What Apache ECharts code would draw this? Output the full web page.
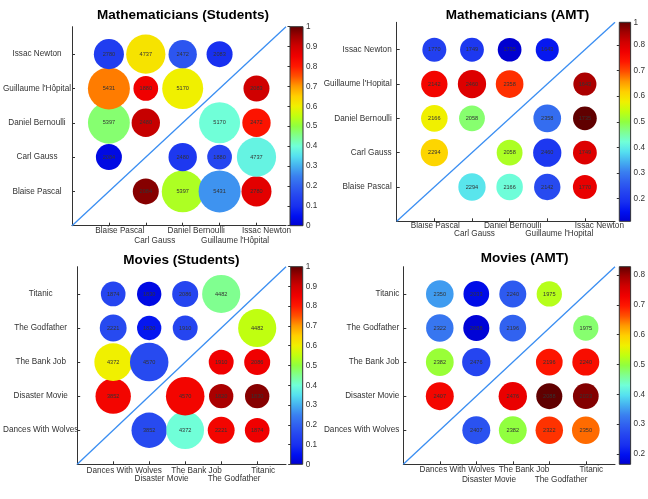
<!DOCTYPE html>
<html><head><meta charset="utf-8">
<script src="https://cdn.jsdelivr.net/npm/echarts@6/dist/echarts.min.js"></script>
<style>html,body{margin:0;padding:0;background:#fff}#c{width:648px;height:499px}</style>
</head><body><div id="c"></div>
<script>
// ---------- data ----------
const MATH_CATS_STUDENTS = ['Blaise Pascal', 'Carl Gauss', 'Daniel Bernoulli', "Guillaume l'Hôpital", 'Issac Newton'];
const MATH_CATS_AMT = ['Blaise Pascal', 'Carl Gauss', 'Daniel Bernoulli', "Guillaume l'Hopital", 'Issac Newton'];
const MOVIE_CATS = ['Dances With Wolves', 'Disaster Movie', 'The Bank Job', 'The Godfather', 'Titanic'];
const CAT_POS = [1, 2, 3, 4, 5];
const ROW1_POS = [1, 3, 5];   // x labels on the first text row
const ROW2_POS = [2, 4];      // x labels on the second text row
const AXIS_MAX = 5.8;

// rows: y = 1 (bottom) .. 5 (top); columns: x = 1 .. 5
const MATH_STUDENTS_SCORE = [
  [null, 0.97, 0.53, 0.27, 0.87],
  [0.03, null, 0.12, 0.15, 0.38],
  [0.47, 0.91, null, 0.40, 0.81],
  [0.72, 0.85, 0.60, null, 0.90],
  [0.13, 0.62, 0.18, 0.10, null]
];
const MATH_STUDENTS_COUNT = [
  [null, 2084, 5397, 5431, 2780],
  [2084, null, 2480, 1880, 4737],
  [5397, 2480, null, 5170, 2472],
  [5431, 1880, 5170, null, 2083],
  [2780, 4737, 2472, 2083, null]
];
const MATH_AMT_SCORE = [
  [null, 0.39, 0.42, 0.236, 0.78],
  [0.61, null, 0.523, 0.205, 0.795],
  [0.578, 0.477, null, 0.283, 0.888],
  [0.764, 0.795, 0.717, null, 0.84],
  [0.22, 0.205, 0.112, 0.16, null]
];
const MATH_AMT_COUNT = [
  [null, 2294, 2166, 2142, 1770],
  [2294, null, 2058, 2460, 1749],
  [2166, 2058, null, 2358, 1735],
  [2142, 2460, 2358, null, 1643],
  [1770, 1749, 1735, 1643, null]
];
const MOVIE_STUDENTS_SCORE = [
  [null, 0.16, 0.40, 0.84, 0.85],
  [0.84, null, 0.84, 0.94, 0.97],
  [0.60, 0.16, null, 0.85, 0.85],
  [0.16, 0.06, 0.15, null, 0.55],
  [0.15, 0.03, 0.15, 0.45, null]
];
const MOVIE_STUDENTS_COUNT = [
  [null, 3852, 4372, 2221, 1874],
  [3852, null, 4570, 1820, 1830],
  [4372, 4570, null, 1910, 2086],
  [2221, 1820, 1910, null, 4482],
  [1874, 1830, 2086, 4482, null]
];
const MOVIE_AMT_SCORE = [
  [null, 0.28, 0.497, 0.68, 0.65],
  [0.72, null, 0.735, 0.828, 0.81],
  [0.503, 0.265, null, 0.70, 0.71],
  [0.32, 0.172, 0.30, null, 0.477],
  [0.35, 0.19, 0.29, 0.523, null]
];
const MOVIE_AMT_COUNT = [
  [null, 2407, 2382, 2322, 2350],
  [2407, null, 2476, 2088, 2033],
  [2382, 2476, null, 2196, 2240],
  [2322, 2088, 2196, null, 1975],
  [2350, 2033, 2240, 1975, null]
];
const CB_TICKS_01 = [0, 0.1, 0.2, 0.3, 0.4, 0.5, 0.6, 0.7, 0.8, 0.9, 1];
const CB_TICKS_AMT_MATH = [0.2, 0.3, 0.4, 0.5, 0.6, 0.7, 0.8];
const CB_TOP_LABEL_AMT_MATH = '1';
const CB_TICKS_AMT_MOVIE = [0.2, 0.3, 0.4, 0.5, 0.6, 0.7, 0.8];
const CB_RANGE_MATH_AMT = [0.112, 0.888];
const CB_RANGE_MOVIE_AMT = [0.165, 0.828];

// ---------- style ----------
const FONT = '"Liberation Sans", Arial, Helvetica, sans-serif';
const JET = ['#0000d0', '#0010f0', '#1830f0', '#2545f0', '#3060f0', '#3a80f0', '#45b0f0', '#55e0f0',
  '#70ffd8', '#80ff90', '#90ff40', '#c0ff10', '#f0f000', '#ffd000', '#ff9a00', '#ff5000',
  '#ff1800', '#f00000', '#d00000', '#a00000', '#600000'];
const SIZE_K = 0.57;
const LBL = 8.2;

const panels = [
  { title: 'Mathematicians (Students)', cats: MATH_CATS_STUDENTS, score: MATH_STUDENTS_SCORE, count: MATH_STUDENTS_COUNT,
    cmin: 0, cmax: 1, cbTicks: CB_TICKS_01, topLabel: null,
    grid: { left: 68, top: 26.7, width: 218, height: 199 }, cb: { left: 290, top: 26.7, width: 13, height: 199 },
    tx: 183, ty: 15.7, yAlign: 'center', yMargin: 35, xMargin: 1.5, row2: 9.3, dx: [11, 9, 13.5, 15.5, 10] },
  { title: 'Mathematicians (AMT)', cats: MATH_CATS_AMT, score: MATH_AMT_SCORE, count: MATH_AMT_COUNT,
    cmin: CB_RANGE_MATH_AMT[0], cmax: CB_RANGE_MATH_AMT[1], cbTicks: CB_TICKS_AMT_MATH, topLabel: CB_TOP_LABEL_AMT_MATH,
    grid: { left: 396.7, top: 22.3, width: 218.3, height: 199 }, cb: { left: 619.3, top: 22.3, width: 12.4, height: 199 },
    tx: 517.5, ty: 15, yAlign: 'right', yMargin: 5, xMargin: 0.8, row2: 7.3, dx: [1, 2.5, 3, 12, 14.5] },
  { title: 'Movies (Students)', cats: MOVIE_CATS, score: MOVIE_STUDENTS_SCORE, count: MOVIE_STUDENTS_COUNT,
    cmin: 0, cmax: 1, cbTicks: CB_TICKS_01, topLabel: null,
    grid: { left: 74, top: 266.7, width: 212, height: 197.6 }, cb: { left: 290.7, top: 266.7, width: 12, height: 197.6 },
    tx: 181.3, ty: 260, yAlign: 'center', yMargin: 36.5, xMargin: 2.5, row2: 7.7, dx: [11, 12.4, 11.3, 13, 6] },
  { title: 'Movies (AMT)', cats: MOVIE_CATS, score: MOVIE_AMT_SCORE, count: MOVIE_AMT_COUNT,
    cmin: CB_RANGE_MOVIE_AMT[0], cmax: CB_RANGE_MOVIE_AMT[1], cbTicks: CB_TICKS_AMT_MOVIE, topLabel: null,
    grid: { left: 403.3, top: 266.7, width: 211.7, height: 197.6 }, cb: { left: 619.3, top: 266.7, width: 12.4, height: 197.6 },
    tx: 524.7, ty: 258.3, yAlign: 'right', yMargin: 4, xMargin: 1.9, row2: 9.3, dx: [17.4, 12.7, 11.3, 11.8, 5.5] }
];

const grids = [], xAxes = [], yAxes = [], series = [], visualMaps = [], graphics = [];
const extraX = [];
const gradStops = JET.map((c, i) => ({ offset: i / (JET.length - 1), color: JET[JET.length - 1 - i] }));

function richFor(p) {
  const rich = {};
  p.dx.forEach((d, i) => {
    rich['r' + i] = { fontSize: LBL, fontFamily: FONT, color: '#333', padding: [0, 0, 0, 2 * d] };
  });
  return rich;
}
function xFormatter(p) {
  return (v) => { const i = Math.round(v) - 1; return (i >= 0 && i < 5) ? '{r' + i + '|' + p.cats[i] + '}' : ''; };
}

panels.forEach((p, k) => {
  grids.push(Object.assign({ containLabel: false }, p.grid));
  xAxes.push({
    gridIndex: k, type: 'value', min: 0, max: AXIS_MAX, position: 'bottom',
    axisLine: { show: true, onZero: false, lineStyle: { color: '#333', width: 1 } },
    splitLine: { show: false },
    axisTick: { show: true, inside: true, length: 3, customValues: CAT_POS, lineStyle: { color: '#333' } },
    axisLabel: {
      customValues: ROW1_POS, margin: p.xMargin, fontSize: LBL, fontFamily: FONT, color: '#333', rich: richFor(p),
      hideOverlap: false, formatter: xFormatter(p)
    }
  });
  extraX.push({
    gridIndex: k, type: 'value', min: 0, max: AXIS_MAX, position: 'bottom', offset: 0,
    axisLine: { show: false }, axisTick: { show: false }, splitLine: { show: false },
    axisLabel: {
      customValues: ROW2_POS, margin: p.xMargin + p.row2, fontSize: LBL, fontFamily: FONT, color: '#333', rich: richFor(p),
      hideOverlap: false, formatter: xFormatter(p)
    }
  });
  yAxes.push({
    gridIndex: k, type: 'value', min: 0, max: AXIS_MAX,
    axisLine: { show: true, onZero: false, lineStyle: { color: '#333', width: 1 } },
    splitLine: { show: false },
    axisTick: { show: true, inside: true, length: 3, customValues: CAT_POS, lineStyle: { color: '#333' } },
    axisLabel: {
      customValues: CAT_POS, margin: p.yMargin, align: p.yAlign, fontSize: LBL, fontFamily: FONT, color: '#333',
      hideOverlap: false,
      formatter: (v) => { const i = Math.round(v) - 1; return (i >= 0 && i < 5) ? p.cats[i] : ''; }
    }
  });
  const data = [];
  p.score.forEach((row, r) => row.forEach((v, c) => {
    if (v !== null) data.push([CAT_POS[c], CAT_POS[r], v, p.count[r][c]]);
  }));
  series.push({
    type: 'line', xAxisIndex: k, yAxisIndex: k, data: [[0, 0], [AXIS_MAX, AXIS_MAX]],
    showSymbol: false, symbol: 'none', silent: true, z: 1,
    lineStyle: { color: '#3a8ef2', width: 1.3 }
  });
  series.push({
    type: 'scatter', xAxisIndex: k, yAxisIndex: k, data: data, z: 2,
    symbolSize: (val) => SIZE_K * Math.sqrt(val[3]),
    itemStyle: { opacity: 1 },
    label: { show: true, position: 'inside', formatter: (q) => String(q.value[3]), fontSize: 5.6, fontFamily: FONT, color: '#333' },
    emphasis: { disabled: true }
  });
  visualMaps.push({
    type: 'continuous', show: false, seriesIndex: series.length - 1, dimension: 2,
    min: p.cmin, max: p.cmax, inRange: { color: JET }
  });
  graphics.push({
    type: 'text', x: p.tx, y: p.ty,
    style: { text: p.title, fill: '#000', fontSize: 13.5, fontWeight: 'bold', fontFamily: FONT, align: 'center', verticalAlign: 'middle' }
  });
});

panels.forEach((p, k) => {
  const gi = 4 + k;
  grids.push(Object.assign({ containLabel: false }, p.cb));
  xAxes.push({ gridIndex: gi, type: 'value', min: 0, max: 1, show: false });
  const vals = p.topLabel ? p.cbTicks.concat([p.cmax]) : p.cbTicks;
  yAxes.push({
    gridIndex: gi, type: 'value', min: p.cmin, max: p.cmax, position: 'right',
    axisLine: { show: false }, splitLine: { show: false },
    axisTick: { show: true, inside: true, length: 2.5, customValues: p.cbTicks, lineStyle: { color: '#333' } },
    axisLabel: {
      customValues: vals, margin: 3, fontSize: LBL, fontFamily: FONT, color: '#333',
      hideOverlap: false,
      formatter: (v) => (p.topLabel && Math.abs(v - p.cmax) < 1e-9) ? p.topLabel : String(Math.round(v * 10) / 10)
    }
  });
  series.push({
    type: 'custom', xAxisIndex: gi, yAxisIndex: gi, silent: true, data: [[0, p.cmin, p.cmax]],
    renderItem: (params, api) => {
      const a = api.coord([0, api.value(2)]);
      const b = api.coord([1, api.value(1)]);
      return {
        type: 'rect', shape: { x: a[0], y: a[1], width: b[0] - a[0], height: b[1] - a[1] },
        style: { fill: new echarts.graphic.LinearGradient(0, 0, 0, 1, gradStops), stroke: '#333', lineWidth: 1 }
      };
    }
  });
});
extraX.forEach((a) => xAxes.push(a));

const chart = echarts.init(document.getElementById('c'), null, { renderer: 'canvas' });
chart.setOption({
  animation: false,
  backgroundColor: '#fff',
  grid: grids, xAxis: xAxes, yAxis: yAxes, series: series, visualMap: visualMaps, graphic: graphics
});
</script></body></html>
